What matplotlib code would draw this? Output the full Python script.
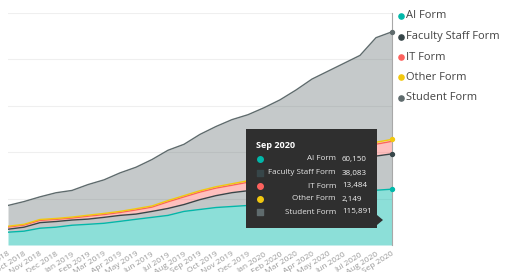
import numpy as np
import matplotlib
matplotlib.use('Agg')
import matplotlib.pyplot as plt
from matplotlib.patches import Rectangle, Polygon

plt.rcParams['font.family'] = ['Open Sans', 'DejaVu Sans']

# Datos (formularios acumulados por mes)
meses = ['Sep 2018', 'Oct 2018', 'Nov 2018', 'Dec 2018', 'Jan 2019', 'Feb 2019',
         'Mar 2019', 'Apr 2019', 'May 2019', 'Jun 2019', 'Jul 2019', 'Aug 2019',
         'Sep 2019', 'Oct 2019', 'Nov 2019', 'Dec 2019', 'Jan 2020', 'Feb 2020',
         'Mar 2020', 'Apr 2020', 'May 2020', 'Jun 2020', 'Jul 2020', 'Aug 2020',
         'Sep 2020']
ai_form = [13800, 14900, 18100, 19200, 21300, 22300, 23400, 25500, 27700, 29800,
           31900, 36200, 38300, 40400, 41500, 42600, 44700, 46800, 49000, 51000,
           53000, 55000, 57000, 59000, 60150]
faculty_staff_form = [3200, 4300, 6000, 6100, 5600, 5600, 6400, 6400, 5600, 6400,
                      7500, 7400, 10600, 12800, 14900, 15900, 18100, 20200, 22300,
                      24500, 26800, 31200, 34500, 36800, 38083]
it_form = [2300, 2200, 2400, 2300, 2100, 3100, 3000, 3100, 4500, 4600, 7100, 8200,
           8100, 8100, 8000, 9100, 8900, 10000, 11000, 11000, 10900, 10900, 10800,
           12800, 13484]
other_form = [900, 900, 1000, 1000, 1100, 1100, 1200, 1200, 1300, 1300, 1400, 1400,
              1500, 1500, 1600, 1600, 1700, 1700, 1800, 1800, 1900, 1900, 2000, 2100,
              2149]
student_form = [22400, 24500, 24400, 27700, 28700, 33000, 36200, 41500, 44700, 50000,
                54200, 55300, 60700, 64900, 69100, 71200, 74500, 77700, 82900, 90500,
                94700, 96800, 100000, 112700, 115891]

nombres = ['AI Form', 'Faculty Staff Form', 'IT Form', 'Other Form', 'Student Form']
colores = ['#01B8AA', '#374649', '#FD625E', '#F2C80F', '#5F6B6D']
alfas = [0.45, 0.3, 0.4, 0.4, 0.36]
capas = [ai_form, faculty_staff_form, it_form, other_form, student_form]

W, H = 507, 272
fig = plt.figure(figsize=(W / 100, H / 100), dpi=100)
ax = fig.add_axes([8 / W, (H - 245) / H, 384 / W, 232 / H])

x = np.arange(len(meses))
base = np.zeros(len(meses))
tops = []
for vals, c, a in zip(capas, colores, alfas):
    top = base + np.array(vals)
    ax.fill_between(x, base, top, color=c, alpha=a, lw=0, zorder=2)
    tops.append(top)
    base = top
for top, c in zip(tops, colores):
    ax.plot(x, top, color=c, lw=1.0, zorder=3)

ax.set_xlim(0, len(meses) - 1)
ax.set_ylim(0, 250000)
ax.set_yticks(np.arange(0, 250001, 50000))
ax.yaxis.grid(True, color='#efefef', lw=0.8)
ax.set_axisbelow(True)
ax.tick_params(axis='y', length=0, labelleft=False)
for s in ax.spines.values():
    s.set_visible(False)
ax.set_xticks(x)
ax.set_xticklabels(meses, rotation=32, ha='right', va='top', rotation_mode='anchor',
                   fontsize=6, color='#9a9a9a')
ax.tick_params(axis='x', length=0, pad=4)

# linea vertical del cursor y puntos
ult = len(meses) - 1
ax.axvline(ult, color='#a8a8a8', lw=0.8, clip_on=False, zorder=4)
for top, c, i in zip(tops, colores, range(5)):
    if i == 2:
        continue
    ax.scatter(ult, top[-1], s=8, color=c, zorder=5, clip_on=False)

# capa de anotaciones en pixeles
ov = fig.add_axes([0, 0, 1, 1])
ov.set_xlim(0, W)
ov.set_ylim(H, 0)
ov.axis('off')
ov.patch.set_alpha(0)

# tooltip
ov.add_patch(Rectangle((246, 129), 131, 99, fc='#2f2f2f', ec='none'))
ov.add_patch(Polygon([(377, 215), (383, 220), (377, 225)], closed=True, fc='#2f2f2f', ec='none'))
ov.text(256, 145, 'Sep 2020', color='white', fontsize=6.5, fontweight='bold', va='center')
filas = [159, 173, 186, 199, 212]
marcas = ['o', 's', 'o', 'o', 's']
for y, n, c, m, vals in zip(filas, nombres, colores, marcas, capas):
    ov.scatter(260, y, s=16, marker=m, color=c)
    ov.text(336, y, n, ha='right', va='center', fontsize=5.8, color='#e6e6e6')
    ov.text(342, y, f'{vals[-1]:,}', ha='left', va='center', fontsize=5.8, color='#f2f2f2')

# leyenda
for y, n, c in zip([16, 37, 57, 77, 98], nombres, colores):
    ov.scatter(401, y, s=14, color=c)
    ov.text(406, y, n, ha='left', va='center', fontsize=8, color='#444444')

fig.savefig('out.png', dpi=100)
